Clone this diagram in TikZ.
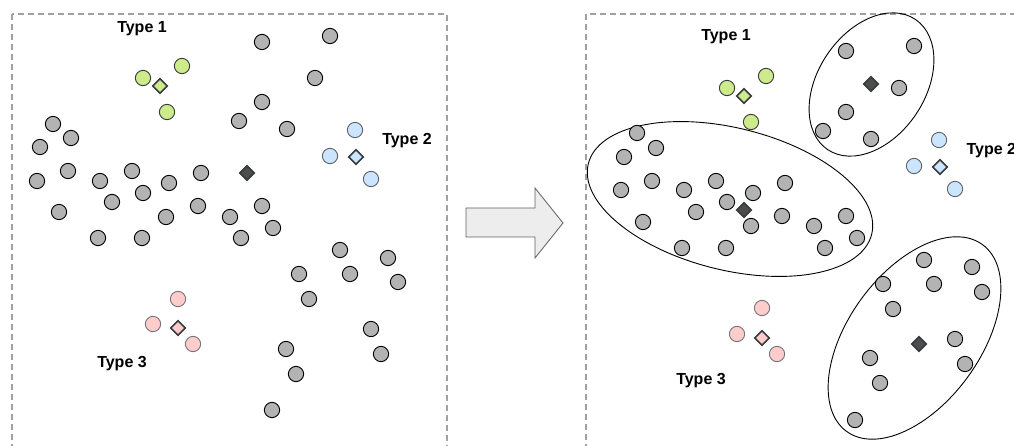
\documentclass[tikz,border=0pt]{standalone}
\usepackage{fontspec}
\setmainfont{Liberation Sans}
\usetikzlibrary{shapes.geometric}
\definecolor{ptgray}{HTML}{B3B3B3}
\definecolor{ptgreen}{HTML}{CDEB8B}
\definecolor{ptblue}{HTML}{CCE5FF}
\definecolor{ptpink}{HTML}{FFCCCC}
\definecolor{edgegray}{HTML}{36393D}
\definecolor{centdark}{HTML}{4D4D4D}

\begin{document}
\begin{tikzpicture}[x=1pt,y=-1pt,
    pt/.style={circle,draw=black,line width=0.9pt,fill=ptgray,inner sep=0pt,minimum size=15.3pt},
    ptg/.style={pt,draw=edgegray,fill=ptgreen},
    ptb/.style={pt,draw=edgegray!80,fill=ptblue},
    ptp/.style={pt,draw=edgegray!70,fill=ptpink},
    cent/.style={diamond,draw=edgegray,line width=1.6pt,inner sep=0pt,minimum size=15pt},
    typelabel/.style={font=\bfseries\fontsize{16}{18}\selectfont}]
            \useasboundingbox (0,0) rectangle (1014,446);
            % panels
            \draw[ptgray!90!black,line width=1.2pt,dash pattern=on 6pt off 4pt] (12,14) rectangle (447,470);
            \draw[ptgray!90!black,line width=1.2pt,dash pattern=on 6pt off 4pt] (586,14) rectangle (1040,470);
            % left: unlabelled points
            \node[pt] (l1) at (262,42){};
            \node[pt] (l2) at (330,36){};
            \node[pt] (l3) at (315,78){};
            \node[pt] (l4) at (262,102){};
            \node[pt] (l5) at (239,121){};
            \node[pt] (l6) at (287,129){};
            \node[pt] (l7) at (53,124){};
            \node[pt] (l8) at (71,138){};
            \node[pt] (l9) at (40,147){};
            \node[pt] (l10) at (68,171){};
            \node[pt] (l11) at (37,181){};
            \node[pt] (l12) at (100,181){};
            \node[pt] (l13) at (132,171){};
            \node[pt] (l14) at (143,193){};
            \node[pt] (l15) at (169,183){};
            \node[pt] (l16) at (201,173){};
            \node[pt] (l17) at (112,202){};
            \node[pt] (l18) at (59,212){};
            \node[pt] (l19) at (166,217){};
            \node[pt] (l20) at (198,206){};
            \node[pt] (l21) at (230,217){};
            \node[pt] (l22) at (262,206){};
            \node[pt] (l23) at (273,228){};
            \node[pt] (l24) at (98,238){};
            \node[pt] (l25) at (142,238){};
            \node[pt] (l26) at (241,238){};
            \node[pt] (l27) at (340,250){};
            \node[pt] (l28) at (388,258){};
            \node[pt] (l29) at (299,274){};
            \node[pt] (l30) at (350,274){};
            \node[pt] (l31) at (398,282){};
            \node[pt] (l32) at (309,299){};
            \node[pt] (l33) at (371,329){};
            \node[pt] (l34) at (286,349){};
            \node[pt] (l35) at (381,354){};
            \node[pt] (l36) at (296,374){};
            \node[pt] (l37) at (272,410){};
            \node[cent,fill=centdark] (lc) at (247,173){};
            % left: labelled points
            \node[ptg] (lg1) at (143,78){};
            \node[ptg] (lg2) at (182,66){};
            \node[ptg] (lg3) at (167,112){};
            \node[cent,fill=ptgreen] (lgc) at (160,86){};
            \node[ptb] (lb1) at (355,130){};
            \node[ptb] (lb2) at (330,156){};
            \node[ptb] (lb3) at (371,179){};
            \node[cent,fill=ptblue] (lbc) at (356,157){};
            \node[ptp] (lp1) at (178,299){};
            \node[ptp] (lp2) at (153,324){};
            \node[ptp] (lp3) at (193,344){};
            \node[cent,fill=ptpink] (lpc) at (178,328){};
            \node[typelabel] (lt1) at (142,29) {Type 1};
            \node[typelabel] (lt2) at (407,141) {Type 2};
            \node[typelabel] (lt3) at (122,364) {Type 3};
            % arrow
            \draw[edgegray!80,fill=black!7,line width=0.8pt] (466,208) -- (535,208) -- (535,188) -- (563,223) -- (535,258) -- (535,237) -- (466,237) -- cycle;
            % right: clusters
            \draw[line width=0.9pt,rotate around={56:(871.5,84.5)}] (871.5,84.5) ellipse [x radius=78.5,y radius=53.5];
            \draw[line width=0.9pt,rotate around={-14:(730,199)}] (730,199) ellipse [x radius=146,y radius=71];
            \draw[line width=0.9pt,rotate around={54:(914.5,338)}] (914.5,338) ellipse [x radius=115.5,y radius=66];
            \node[pt] (a1) at (846,51){};
            \node[pt] (a2) at (914,46){};
            \node[pt] (a3) at (899,88){};
            \node[pt] (a4) at (846,112){};
            \node[pt] (a5) at (823,131){};
            \node[pt] (a6) at (871,139){};
            \node[cent,fill=centdark] (ac) at (871,84){};
            \node[pt] (b1) at (637,133){};
            \node[pt] (b2) at (656,148){};
            \node[pt] (b3) at (624,157){};
            \node[pt] (b4) at (652,181){};
            \node[pt] (b5) at (621,190){};
            \node[pt] (b6) at (684,190){};
            \node[pt] (b7) at (716,181){};
            \node[pt] (b8) at (727,202){};
            \node[pt] (b9) at (753,193){};
            \node[pt] (b10) at (785,183){};
            \node[pt] (b11) at (696,212){};
            \node[pt] (b12) at (643,222){};
            \node[pt] (b13) at (751,226){};
            \node[pt] (b14) at (782,216){};
            \node[pt] (b15) at (814,226){};
            \node[pt] (b16) at (846,216){};
            \node[pt] (b17) at (682,248){};
            \node[pt] (b18) at (726,248){};
            \node[pt] (b19) at (825,248){};
            \node[pt] (b20) at (857,238){};
            \node[cent,fill=centdark] (bc) at (744,210){};
            \node[pt] (c1) at (924,260){};
            \node[pt] (c2) at (972,267){};
            \node[pt] (c3) at (883,284){};
            \node[pt] (c4) at (934,284){};
            \node[pt] (c5) at (982,292){};
            \node[pt] (c6) at (893,309){};
            \node[pt] (c7) at (955,339){};
            \node[pt] (c8) at (870,358){};
            \node[pt] (c9) at (965,364){};
            \node[pt] (c10) at (880,383){};
            \node[pt] (c11) at (855,420){};
            \node[cent,fill=centdark] (cc) at (919,344){};
            % right: labelled points
            \node[ptg] (rg1) at (727,88){};
            \node[ptg] (rg2) at (766,76){};
            \node[ptg] (rg3) at (751,122){};
            \node[cent,fill=ptgreen] (rgc) at (744,96){};
            \node[ptb] (rb1) at (939,140){};
            \node[ptb] (rb2) at (914,166){};
            \node[ptb] (rb3) at (955,189){};
            \node[cent,fill=ptblue] (rbc) at (940,167){};
            \node[ptp] (rp1) at (762,308){};
            \node[ptp] (rp2) at (737,334){};
            \node[ptp] (rp3) at (777,354){};
            \node[cent,fill=ptpink] (rpc) at (762,338){};
            \node[typelabel] (rt1) at (726,37) {Type 1};
            \node[typelabel,anchor=west] (rt2) at (963,151) {Type 2};
            \node[typelabel] (rt3) at (701,381) {Type 3};
\end{tikzpicture}
\end{document}
